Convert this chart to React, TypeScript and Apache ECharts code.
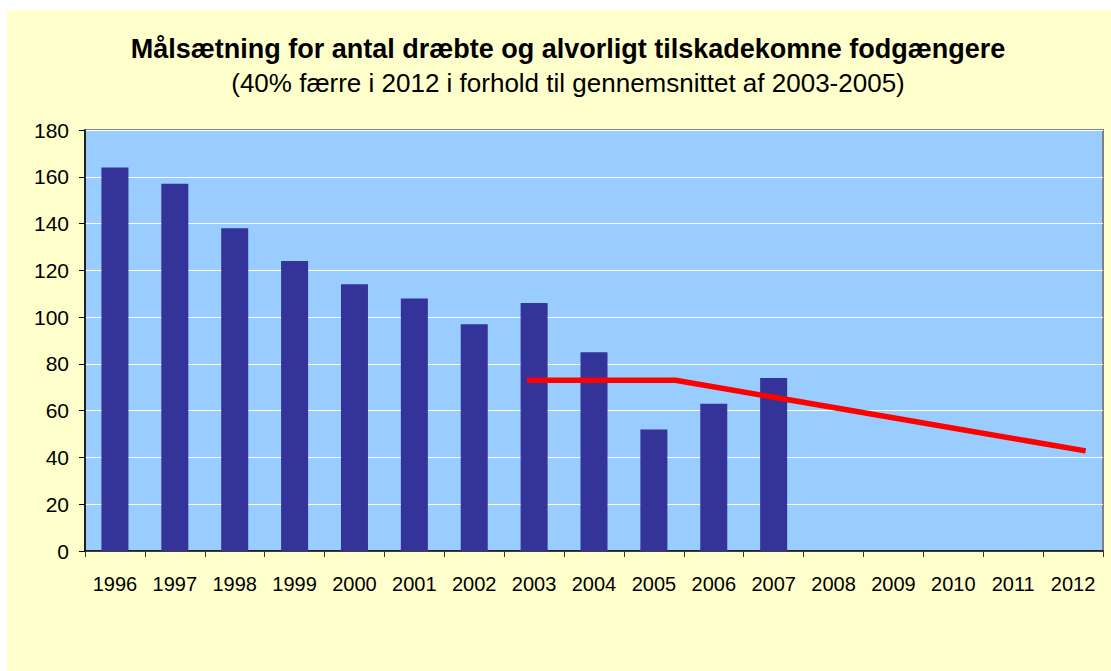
import React, { useEffect, useRef } from "react";
import * as echarts from "echarts";

const years = ["1996", "1997", "1998", "1999", "2000", "2001", "2002", "2003", "2004", "2005", "2006", "2007", "2008", "2009", "2010", "2011", "2012"];
const killedInjured = [164, 157, 138, 124, 114, 108, 97, 106, 85, 52, 63, 74, null, null, null, null, null];
const targetYears = [2002.88, 2005.36, 2012.21];
const targetValues = [73, 73, 42.8];
const yTicks = { min: 0, max: 180, interval: 20 };

const titleText = "Målsætning for antal dræbte og alvorligt tilskadekomne fodgængere";
const subtitleText = "(40% færre i 2012 i forhold til gennemsnittet af 2003-2005)";

export default function App() {
  const ref = useRef<HTMLDivElement>(null);
  useEffect(() => {
    const chart = echarts.init(ref.current!, null, { renderer: "svg" });
    const font = "'Liberation Sans', Arial, sans-serif";
    chart.setOption({
      animation: false,
      backgroundColor: "#FFFFCC",
      title: [
        {
          text: titleText,
          left: 556,
          top: 20,
          textAlign: "center",
          textStyle: { fontFamily: font, fontSize: 27, fontWeight: "bold", color: "#000" },
        },
        {
          text: subtitleText,
          left: 556,
          top: 55,
          textAlign: "center",
          textStyle: { fontFamily: font, fontSize: 26, fontWeight: "normal", color: "#000" },
        },
      ],
      grid: {
        left: 78,
        top: 120,
        right: 8,
        bottom: 120,
        show: true,
        backgroundColor: "#99CCFF",
        borderColor: "#808080",
        borderWidth: 2,
      },
      xAxis: [
        {
          type: "category",
          data: years,
          axisLine: { lineStyle: { color: "#000", width: 1.5 } },
          axisTick: { show: true, length: 6, interval: 0, lineStyle: { color: "#333" } },
          axisLabel: { fontFamily: font, fontSize: 20, color: "#000", margin: 23, interval: 0 },
        },
        {
          type: "value",
          min: 1995.5,
          max: 2012.5,
          show: false,
        },
      ],
      yAxis: {
        type: "value",
        min: yTicks.min,
        max: yTicks.max,
        interval: yTicks.interval,
        axisLine: { show: true, lineStyle: { color: "#000", width: 1.5 } },
        axisTick: { show: true, length: 6, lineStyle: { color: "#000" } },
        axisLabel: { fontFamily: font, fontSize: 21, color: "#000", margin: 16 },
        splitLine: { lineStyle: { color: "#FFFFFF", width: 1 } },
      },
      series: [
        {
          type: "bar",
          data: killedInjured,
          barWidth: 27,
          itemStyle: { color: "#333399" },
          xAxisIndex: 0,
        },
        {
          type: "line",
          xAxisIndex: 1,
          data: targetYears.map((y, i) => [y, targetValues[i]]),
          showSymbol: false,
          symbol: "none",
          lineStyle: { color: "#FF0000", width: 5.5 },
        },
      ],
    });
    return () => chart.dispose();
  }, []);
  return (
    <div
      ref={ref}
      style={{ position: "fixed", left: 7, top: 10, width: 1104, height: 661 }}
    />
  );
}
